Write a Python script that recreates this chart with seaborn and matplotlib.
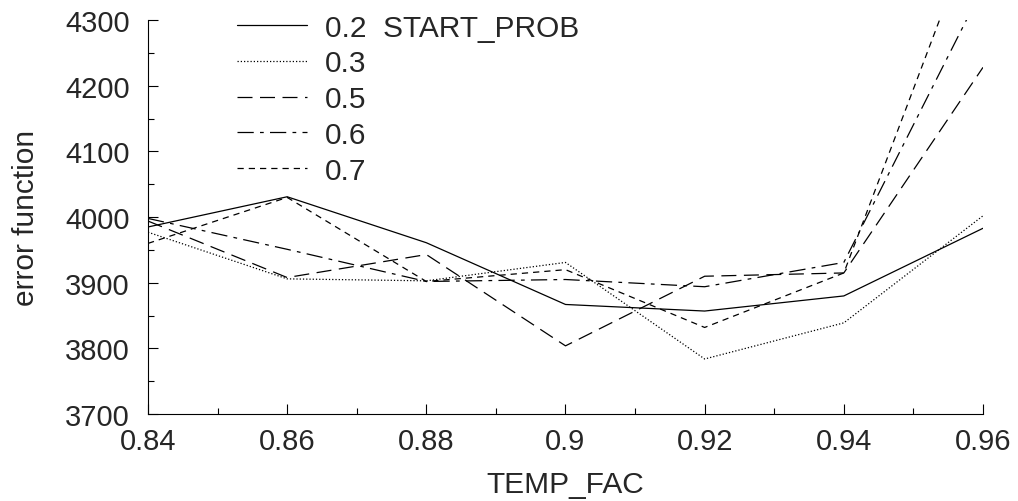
import pandas as pd
import seaborn as sns
import matplotlib.pyplot as plt
from matplotlib.ticker import MultipleLocator

# data
temp_fac = [0.84, 0.86, 0.88, 0.90, 0.92, 0.94, 0.96]
err_02 = [3985, 4031, 3961, 3867, 3857, 3880, 3983]
err_03 = [3977, 3906, 3903, 3931, 3784, 3839, 4002]
err_05 = [3994, 3908, 3943, 3804, 3910, 3915, 4228]
err_06 = [3998, 3951, 3902, 3905, 3894, 3931, 4350]
err_07 = [3960, 4030, 3902, 3920, 3832, 3915, 4475]
start_prob = ['0.2', '0.3', '0.5', '0.6', '0.7']

sns.set_theme(style='ticks')
plt.rcParams['font.family'] = ['Liberation Sans', 'DejaVu Sans']

styles = ['-', (0, (1, 1.6)), (0, (12, 6)), (0, (13, 5, 3, 5)), (0, (5, 4))]
series = [err_02, err_03, err_05, err_06, err_07]

fig = plt.figure(figsize=(10.18, 5.02), dpi=100)
ax = fig.add_axes([0.1454, 0.173, 0.8202, 0.785])

for i, (p, vals) in enumerate(zip(start_prob, series)):
    label = p + '  START_PROB' if i == 0 else p
    sns.lineplot(x=temp_fac, y=vals, ax=ax, color='black', lw=0.9,
                 linestyle=styles[i], label=label)

ax.set_xlim(0.84, 0.96)
ax.set_ylim(3700, 4300)
ax.xaxis.set_major_locator(MultipleLocator(0.02))
ax.xaxis.set_minor_locator(MultipleLocator(0.01))
ax.yaxis.set_major_locator(MultipleLocator(100))
ax.yaxis.set_minor_locator(MultipleLocator(50))
ax.set_xticklabels([f'{v:g}' for v in ax.get_xticks()])
ax.tick_params(which='both', direction='in', labelsize=21, width=0.8, color='black')
ax.tick_params(which='major', length=7)
ax.tick_params(which='minor', length=4)
ax.tick_params(axis='x', pad=9)
ax.tick_params(axis='y', pad=13)
sns.despine(ax=ax)
for s in ['left', 'bottom']:
    ax.spines[s].set_color('black')
    ax.spines[s].set_linewidth(0.8)

ax.set_xlabel('TEMP_FAC', fontsize=21.5, labelpad=11)
ax.set_ylabel('error function', fontsize=21.5, labelpad=18)

leg = ax.legend(loc='upper left', bbox_to_anchor=(0.2328, 0.971),
                bbox_transform=fig.transFigure, frameon=False,
                borderpad=0, borderaxespad=0,
                fontsize=21.5, handlelength=2.34, handletextpad=0.6, labelspacing=0.26)

fig.savefig('out.png', dpi=100)
